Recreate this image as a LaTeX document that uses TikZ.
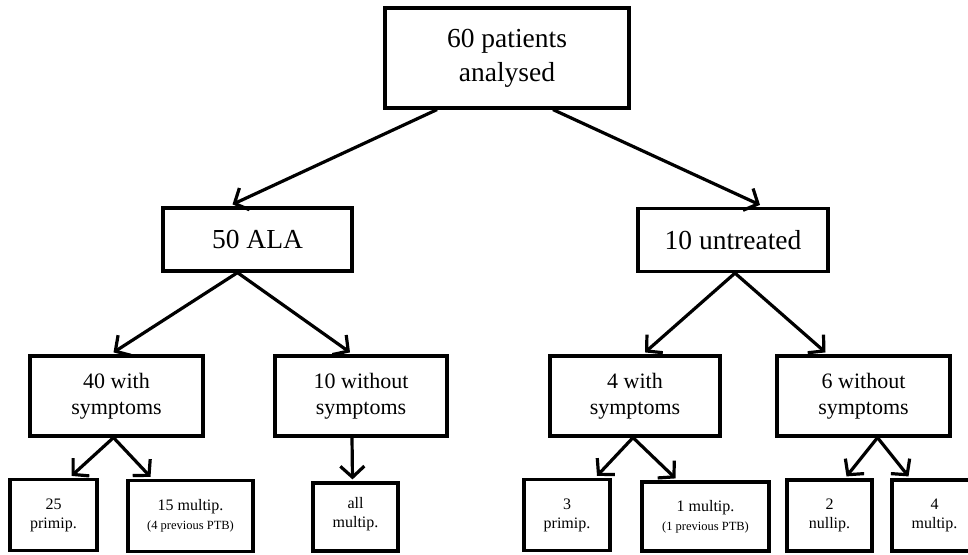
\documentclass[tikz,border=0pt]{standalone}
\usepackage{fontspec}
\setmainfont{Liberation Serif}
\usetikzlibrary{arrows.meta}

\begin{document}
\begin{tikzpicture}[x=1pt, y=1pt,
	box/.style={draw, line width=3.2pt, align=center, inner sep=2pt},
	big/.style={font=\fontsize{27.5}{34}\selectfont},
	mid/.style={font=\fontsize{22}{26}\selectfont},
	low/.style={font=\fontsize{16}{19}\selectfont, minimum height=71pt},
	arr/.style={line width=3.2pt, -{Straight Barb[length=11pt, width=24pt]}}]
	\useasboundingbox (0,0) rectangle (968,-554);
	\clip (0,0) rectangle (968,-554);
	\node[box, big, minimum width=244pt, minimum height=100pt] (total) at (507,-58) {60 patients\\analysed};
	\node[box, big, minimum width=189pt, minimum height=63pt] (ala) at (257.5,-239.5) {50 ALA};
	\node[box, big, minimum width=190pt, minimum height=63pt] (untr) at (733,-240) {10 untreated};
	\node[box, mid, minimum width=173pt, minimum height=80pt] (alaW) at (116.5,-396) {40 with\\symptoms};
	\node[box, mid, minimum width=172pt, minimum height=80pt] (alaWo) at (361,-396) {10 without\\symptoms};
	\node[box, mid, minimum width=170pt, minimum height=80pt] (untrW) at (635,-396) {4 with\\symptoms};
	\node[box, mid, minimum width=173pt, minimum height=80pt] (untrWo) at (863.5,-396) {6 without\\symptoms};
	\node[box, low, minimum width=87pt] (alaPrim) at (53.5,-515) {25\\primip.};
	\node[box, low, minimum width=125pt] (alaMult) at (190.5,-516) {15 multip.\\{\fontsize{12.5}{14}\selectfont(4 previous PTB)}};
	\node[box, low, minimum width=85pt, minimum height=68pt] (alaAll) at (355.5,-517) {all\\multip.\\[-9pt]};
	\node[box, low, minimum width=86pt] (untrPrim) at (567,-515) {3\\primip.};
	\node[box, low, minimum width=127pt, minimum height=69pt] (untrMult) at (705.5,-516.5) {1 multip.\\{\fontsize{12.5}{14}\selectfont(1 previous PTB)}};
	\node[box, low, minimum width=85pt] (untrNull) at (829.5,-515.5) {2\\nullip.};
	\node[box, low, minimum width=85pt] (untrFour) at (934.5,-515.5) {4\\multip.};
	\draw[arr] ([xshift=-70pt]total.south) -- ([xshift=-25pt,yshift=2pt]ala.north);
	\draw[arr] ([xshift=46pt]total.south) -- ([xshift=27pt,yshift=2pt]untr.north);
	\draw[arr] ([xshift=-20pt]ala.south) -- ([xshift=-3pt,yshift=2pt]alaW.north);
	\draw[arr] ([xshift=-20pt]ala.south) -- ([xshift=-11pt,yshift=2pt]alaWo.north);
	\draw[arr] ([xshift=2pt]untr.south) -- ([xshift=10pt,yshift=2pt]untrW.north);
	\draw[arr] ([xshift=2pt]untr.south) -- ([xshift=-38pt,yshift=2pt]untrWo.north);
	\draw[arr] ([xshift=-3pt]alaW.south) -- ([xshift=18pt,yshift=2pt]alaPrim.north);
	\draw[arr] ([xshift=-3pt]alaW.south) -- ([xshift=-40pt,yshift=2pt]alaMult.north);
	\draw[arr] ([xshift=-9pt]alaWo.south) -- ([xshift=-3pt,yshift=2pt]alaAll.north);
	\draw[arr] ([xshift=-2pt]untrW.south) -- ([xshift=30pt,yshift=2pt]untrPrim.north);
	\draw[arr] ([xshift=-2pt]untrW.south) -- ([xshift=-30pt,yshift=2pt]untrMult.north);
	\draw[arr] ([xshift=14pt]untrWo.south) -- ([xshift=17pt,yshift=2pt]untrNull.north);
	\draw[arr] ([xshift=14pt]untrWo.south) -- ([xshift=-26pt,yshift=2pt]untrFour.north);
\end{tikzpicture}
\end{document}
